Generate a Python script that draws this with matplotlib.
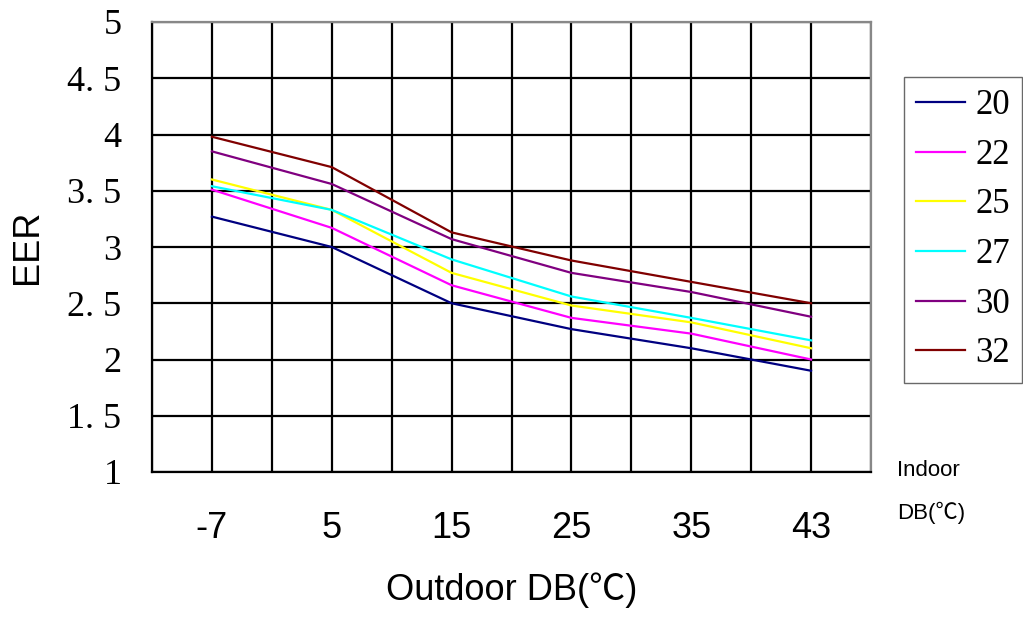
import matplotlib
matplotlib.use("Agg")
import matplotlib.pyplot as plt
from matplotlib.ticker import MultipleLocator

outdoor = ["-7", "5", "15", "25", "35", "43"]
indoor = ["20", "22", "25", "27", "30", "32"]
eer_20 = [3.27, 3.00, 2.50, 2.27, 2.10, 1.90]
eer_22 = [3.51, 3.17, 2.66, 2.37, 2.23, 2.00]
eer_25 = [3.60, 3.33, 2.77, 2.48, 2.33, 2.10]
eer_27 = [3.54, 3.33, 2.89, 2.56, 2.37, 2.17]
eer_30 = [3.85, 3.56, 3.07, 2.77, 2.60, 2.38]
eer_32 = [3.98, 3.71, 3.13, 2.88, 2.69, 2.50]
series = [eer_20, eer_22, eer_25, eer_27, eer_30, eer_32]
colors = ["#000080", "#FF00FF", "#FFFF00", "#00FFFF", "#800080", "#800000"]

SERIF = ["Liberation Serif", "DejaVu Serif"]
SANS = ["Liberation Sans", "Noto Sans CJK SC", "DejaVu Sans"]

fig = plt.figure(figsize=(10.23, 6.19), dpi=100)
fig.patch.set_facecolor("white")
ax = fig.add_axes([152 / 1023, 1 - 472 / 619, 719 / 1023, 450 / 619])

x = list(range(len(outdoor)))
lines = []
for vals, c, name in zip(series, colors, indoor):
    ln, = ax.plot(x, vals, color=c, lw=1.6, label=name, zorder=3)
    lines.append(ln)

ax.set_xlim(-0.5, 5.5)
ax.set_ylim(1, 5)
ax.xaxis.set_minor_locator(MultipleLocator(0.5))
ax.set_xticks(x)
ax.set_xticklabels(outdoor, family=SANS, fontsize=26)
ax.set_yticks([1, 1.5, 2, 2.5, 3, 3.5, 4, 4.5, 5])
ax.set_yticklabels(["1", "1. 5", "2", "2. 5", "3", "3. 5", "4", "4. 5", "5"],
                   family=SERIF, fontsize=26)
ax.tick_params(axis="both", which="both", length=0)
ax.tick_params(axis="x", pad=28)
ax.tick_params(axis="y", pad=22)
ax.grid(True, which="both", axis="x", color="black", lw=1.6, zorder=1)
ax.grid(True, which="major", axis="y", color="black", lw=1.6, zorder=1)
for s in ax.spines.values():
    s.set_linewidth(1.6)
ax.spines["right"].set_color("#888888")
ax.spines["top"].set_color("#888888")

fig.text(27 / 1023, 1 - 247 / 619, "EER", family=SANS, fontsize=26,
         rotation=90, ha="center", va="center")
fig.text(512 / 1023, 1 - 590 / 619, "Outdoor DB(℃)", family=SANS, fontsize=26,
         ha="center", va="center")
fig.text(897 / 1023, 1 - 471 / 619, "Indoor", family=SANS, fontsize=16,
         ha="left", va="center")
fig.text(897 / 1023, 1 - 513 / 619, "DB(℃)", family=SANS, fontsize=16,
         ha="left", va="center")

leg = fig.legend(handles=lines, loc="upper left",
                 bbox_to_anchor=(904 / 1023, 1 - 77 / 619),
                 prop={"family": SERIF, "size": 25}, frameon=True, fancybox=False,
                 handlelength=1.4, handletextpad=0.3, labelspacing=0.48,
                 borderpad=0.35, borderaxespad=0)
leg.get_frame().set_edgecolor("#444444")
leg.get_frame().set_linewidth(1.0)

fig.savefig("out.png", dpi=100, facecolor="white")
